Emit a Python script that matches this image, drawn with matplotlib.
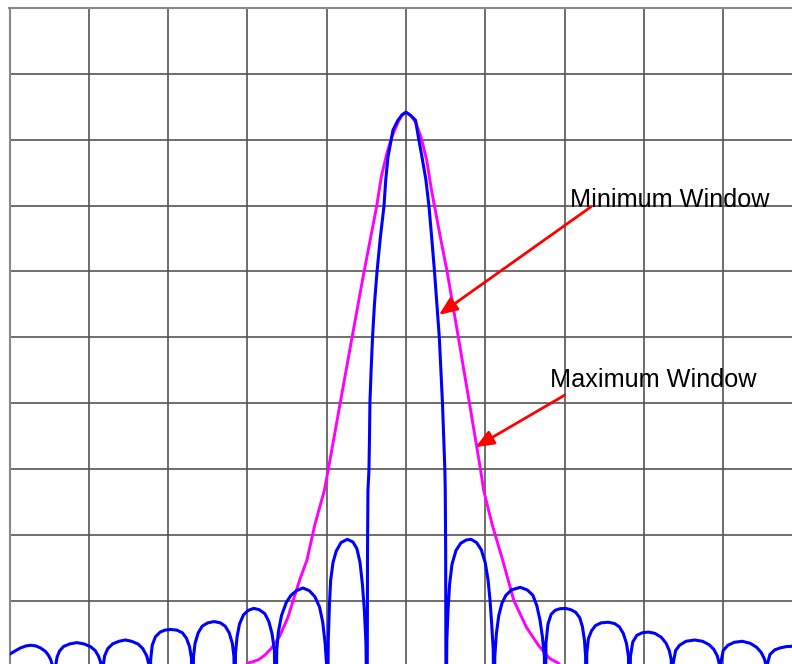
import matplotlib
matplotlib.use("Agg")
import matplotlib.pyplot as plt

# frequency offset (divisions from centre) and level (dB)
rect_x = [-5.02, -4.99, -4.92, -4.86, -4.79, -4.73, -4.67, -4.61, -4.55, -4.51, -4.48, -4.45, -4.43,
          -4.42, -4.40, -4.37, -4.32, -4.24, -4.15, -4.06, -3.98, -3.92, -3.88, -3.85, -3.83,
          -3.82, -3.80, -3.76, -3.70, -3.62, -3.54, -3.46, -3.38, -3.32, -3.27, -3.24, -3.23,
          -3.22, -3.20, -3.16, -3.10, -3.04, -2.97, -2.89, -2.82, -2.77, -2.73, -2.705, -2.69,
          -2.68, -2.66, -2.62, -2.57, -2.50, -2.42, -2.34, -2.28, -2.23, -2.19, -2.17, -2.16,
          -2.15, -2.13, -2.10, -2.05, -1.99, -1.92, -1.85, -1.78, -1.73, -1.69, -1.66, -1.64,
          -1.63, -1.61, -1.57, -1.51, -1.45, -1.38, -1.30, -1.22, -1.15, -1.09, -1.05, -1.02, -1.00, -0.99,
          -0.98, -0.965, -0.95, -0.92, -0.88, -0.82, -0.74, -0.67, -0.62, -0.58, -0.55, -0.525, -0.505, -0.49,
          -0.485, -0.48, -0.467, -0.46, -0.455, -0.44, -0.422, -0.398, -0.366, -0.325, -0.278,
          -0.255, -0.227, -0.164, -0.101, -0.05, 0.0,
          0.06, 0.12, 0.155, 0.20, 0.25, 0.29, 0.325, 0.36, 0.39, 0.42, 0.44, 0.46, 0.475,
          0.49, 0.495, 0.50, 0.505,
          0.515, 0.53, 0.55, 0.58, 0.63, 0.69, 0.76, 0.82, 0.89, 0.95, 1.00, 1.035, 1.06, 1.08, 1.10, 1.11,
          1.12, 1.14, 1.17, 1.21, 1.26, 1.33, 1.44, 1.53, 1.60, 1.65, 1.69, 1.72, 1.745, 1.755,
          1.765, 1.79, 1.83, 1.88, 1.94, 2.01, 2.08, 2.14, 2.19, 2.225, 2.25, 2.265, 2.27,
          2.28, 2.30, 2.34, 2.39, 2.46, 2.55, 2.63, 2.69, 2.74, 2.78, 2.805, 2.82,
          2.83, 2.86, 2.91, 2.98, 3.06, 3.14, 3.22, 3.28, 3.32, 3.345, 3.36,
          3.37, 3.40, 3.45, 3.53, 3.64, 3.74, 3.82, 3.88, 3.925, 3.95, 3.96,
          3.97, 4.00, 4.06, 4.14, 4.24, 4.34, 4.42, 4.48, 4.52, 4.54, 4.55,
          4.56, 4.59, 4.65, 4.72, 4.80, 4.89, 5.02]
rect_db = [-98.3, -98.1, -97.6, -97.2, -96.9, -96.8, -96.9, -97.2, -97.7, -98.3, -99.0, -100.2, -110,
           -100.0, -98.6, -97.7, -97.0, -96.6, -96.4, -96.6, -97.0, -97.6, -98.4, -99.4, -110,
           -100.0, -98.4, -97.3, -96.6, -96.2, -96.0, -96.2, -96.6, -97.3, -98.4, -99.8, -110,
           -99.0, -96.8, -95.5, -94.8, -94.5, -94.4, -94.5, -94.9, -95.7, -97.0, -98.8, -110,
           -98.5, -96.5, -94.9, -93.9, -93.4, -93.2, -93.4, -93.9, -94.9, -96.5, -98.5, -110,
           -98.0, -95.5, -93.6, -92.2, -91.5, -91.2, -91.4, -92.0, -93.2, -95.0, -97.5, -110,
           -97.5, -94.8, -92.3, -90.3, -89.2, -88.5, -88.1, -88.5, -89.4, -91.0, -93.3, -96.5, -100.0, -110,
           -96.0, -90.5, -86.9, -84.2, -82.5, -81.2, -80.7, -81.1, -82.1, -84.2, -87.5, -91.5, -96.5, -110,
           -82.0, -73.3, -70.1, -65.0, -60.0, -55.0, -50.0, -45.0, -40.1, -35.0, -30.1,
           -26.0, -22.6, -18.5, -17.0, -16.2, -15.8,
           -16.3, -17.0, -19.5, -22.5, -26.0, -30.1, -35.0, -40.1, -45.0, -50.0, -55.0, -60.0, -65.0,
           -70.1, -73.3, -82.0, -110,
           -96.0, -91.5, -87.5, -84.5, -82.4, -81.3, -80.8, -80.7, -81.2, -82.3, -84.3, -86.9, -90.0, -93.5, -97.5, -110,
           -98.5, -95.0, -92.3, -90.4, -89.2, -88.4, -88.0, -88.4, -89.2, -90.8, -93.0, -95.5, -98.5, -110,
           -96.5, -93.6, -92.1, -91.5, -91.25, -91.2, -91.4, -91.8, -92.6, -94.0, -96.0, -98.5, -110,
           -98.0, -95.8, -94.6, -93.8, -93.4, -93.3, -93.5, -94.0, -95.0, -96.5, -98.5, -110,
           -98.5, -96.3, -95.3, -94.9, -94.8, -95.0, -95.6, -96.5, -97.6, -99.0, -110,
           -99.5, -97.6, -96.8, -96.2, -96.0, -96.2, -96.7, -97.4, -98.4, -99.6, -110,
           -99.5, -97.6, -96.8, -96.35, -96.2, -96.5, -97.1, -97.9, -98.9, -99.8, -110,
           -99.5, -98.2, -97.5, -97.2, -97.0, -96.95, -96.9]

wide_x = [-2.1, -1.995, -1.93, -1.86, -1.78, -1.70, -1.60, -1.49, -1.41, -1.33, -1.25, -1.15, -1.03,
          -0.98, -0.83, -0.68, -0.53, -0.45, -0.37, -0.31, -0.24, -0.18, -0.10, -0.05, 0.0,
          0.06, 0.12, 0.19, 0.26, 0.32, 0.36, 0.44, 0.52, 0.66, 0.80, 0.94, 0.98, 1.09, 1.22,
          1.36, 1.52, 1.67, 1.81, 1.92, 2.05]
wide_db = [-101.5, -99.5, -99.3, -99.0, -98.3, -97.3, -95.6, -92.6, -89.5, -86.5, -83.9, -78.5, -73.3,
           -70.1, -60.0, -50.0, -40.1, -35.1, -30.1, -25.5, -22.0, -19.6, -17.3, -16.2, -15.8,
           -16.3, -17.3, -19.6, -23.0, -27.5, -30.1, -35.2, -40.1, -50.0, -60.0, -70.1, -73.3, -78.6, -83.9,
           -90.0, -94.1, -96.8, -98.8, -99.5, -101.5]

labels = ["Minimum Window", "Maximum Window"]
label_pos = [(2.07, -30.15), (1.81, -57.6)]
arrow_tail = [(2.335, -30.15), (2.0, -58.8)]
arrow_tip = [(0.414, -46.6), (0.876, -66.7)]

plt.rcParams['font.family'] = ['Liberation Sans', 'DejaVu Sans']

fig = plt.figure(figsize=(7.92, 6.64), dpi=100)
ax = fig.add_axes([9.5 / 792, -2.3 / 664, 793 / 792, 658 / 664])

ax.plot(wide_x, wide_db, color='#ff00ff', lw=2.1, zorder=3)
ax.plot(rect_x, rect_db, color='#0000ff', lw=2.2, zorder=4)

for text, (tx, ty) in zip(labels, label_pos):
    ax.text(tx, ty, text, fontsize=18.2, ha='left', va='baseline', zorder=6)

for tail, tip in zip(arrow_tail, arrow_tip):
    ax.annotate('', xy=tip, xytext=tail,
                arrowprops=dict(arrowstyle='-|>,head_length=1.1,head_width=0.45',
                                mutation_scale=10, color='#ff0000', lw=2,
                                shrinkA=0, shrinkB=0),
                zorder=5)

ax.set_xlim(-5, 5)
ax.set_ylim(-100, 0)
ax.set_xticks(range(-5, 6))
ax.set_yticks(range(-100, 1, 10))
ax.grid(True, color='#555555', lw=1.2)
ax.tick_params(length=0, labelbottom=False, labelleft=False)
for s in ax.spines.values():
    s.set_color('#888888')
    s.set_linewidth(1.5)

fig.savefig('out.png', dpi=100)
